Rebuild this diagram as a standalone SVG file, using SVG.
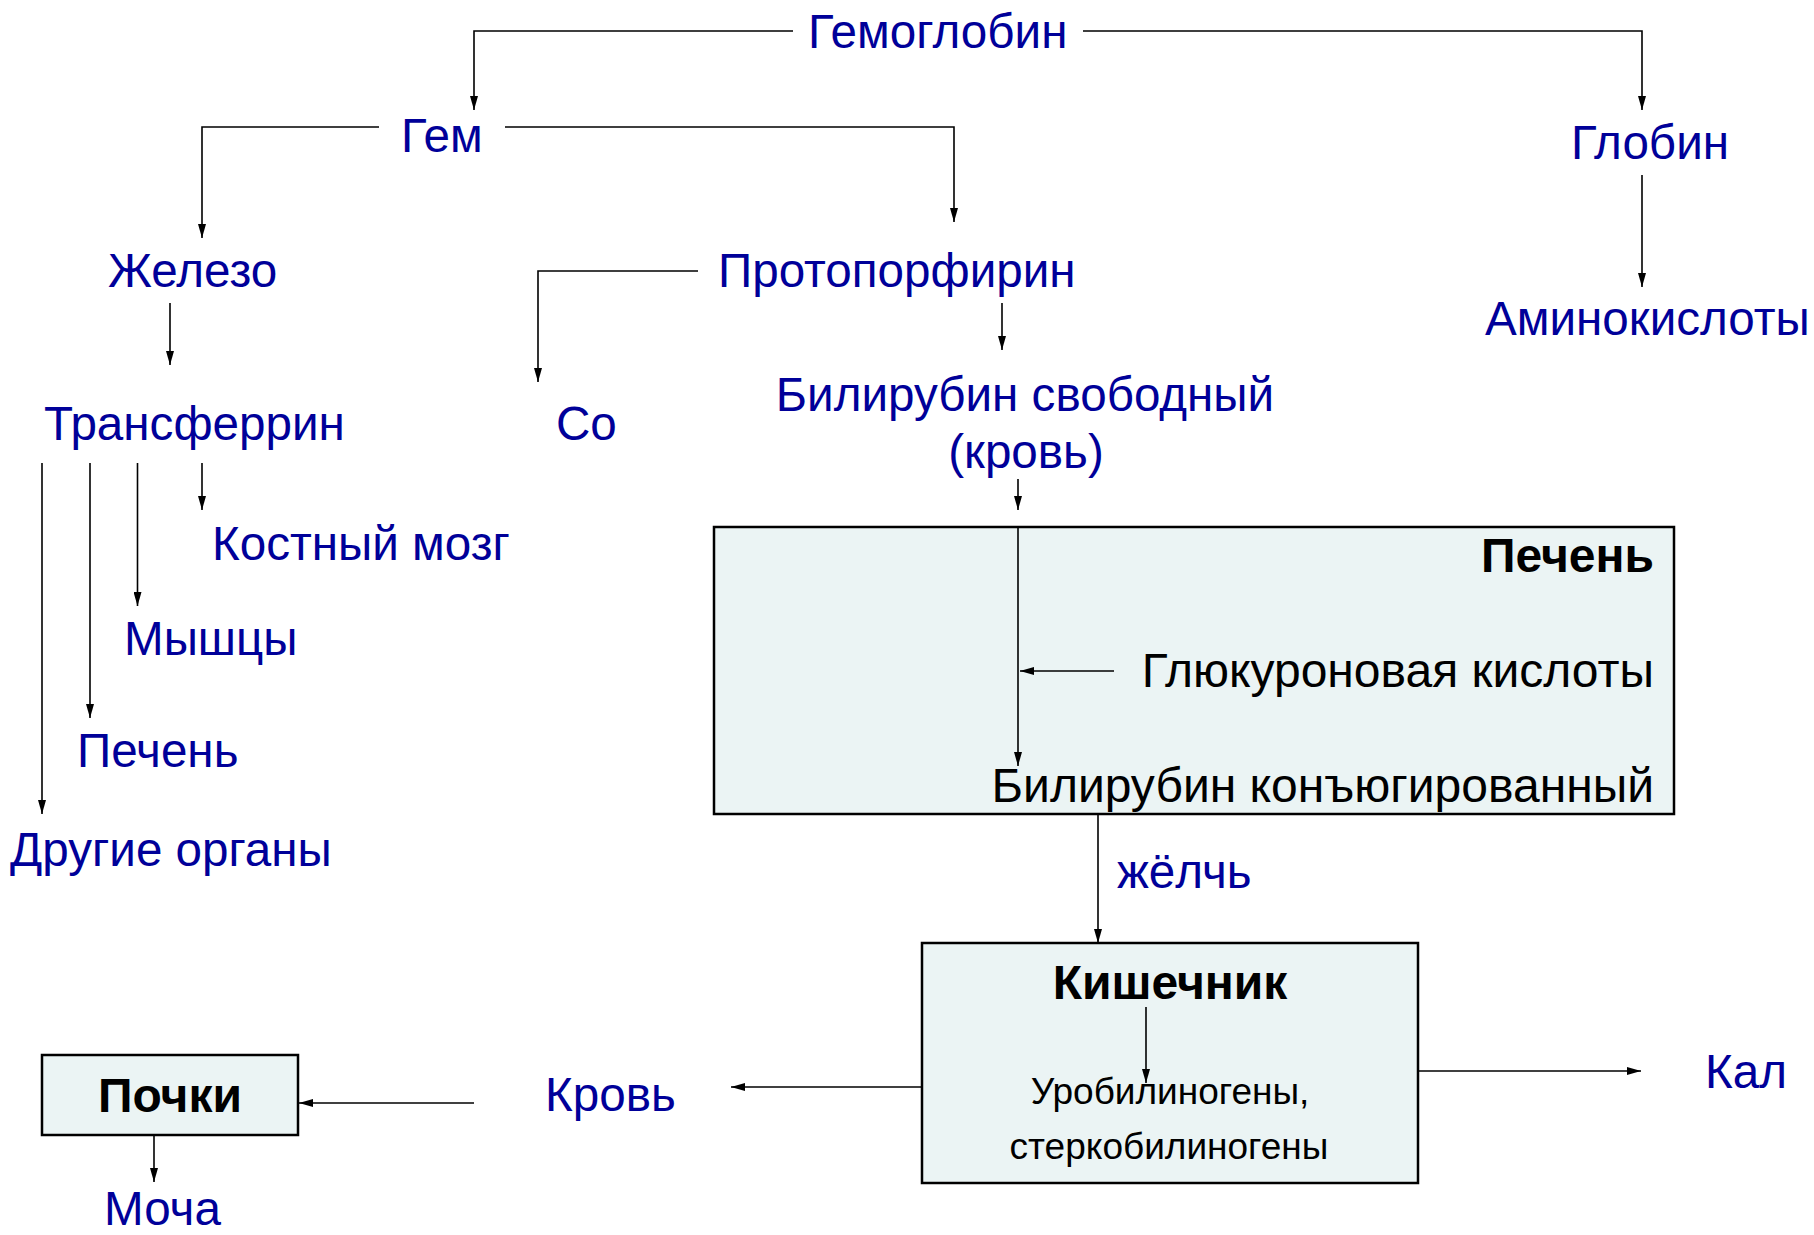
<svg xmlns="http://www.w3.org/2000/svg" width="1814" height="1235" viewBox="0 0 1814 1235">
<style>
.t{font-family:"Liberation Sans",Arial,sans-serif;font-size:47.6px;fill:#000099}
.k{font-family:"Liberation Sans",Arial,sans-serif;font-size:48px;fill:#000}
.b{font-family:"Liberation Sans",Arial,sans-serif;font-size:48px;font-weight:bold;fill:#000}
.s{font-family:"Liberation Sans",Arial,sans-serif;font-size:37px;fill:#000}
.box{fill:#ebf4f4;stroke:#000;stroke-width:2.5}
.c{fill:none;stroke:#000;stroke-width:1.6}
.a{fill:none;stroke:#000;stroke-width:1.6;marker-end:url(#ar)}
</style>
<defs>
<marker id="ar" viewBox="0 0 14 8" refX="14" refY="4" markerWidth="14" markerHeight="8" markerUnits="userSpaceOnUse" orient="auto">
<path d="M0,0 L14,4 L0,8 z" fill="#000"/>
</marker>
</defs>
<rect width="1814" height="1235" fill="#fff"/>
<g id="connectors">
<path class="a" d="M793,31 H474 V110"/>
<path class="a" d="M1083,31 H1642 V110"/>
<path class="a" d="M379,127 H202 V238"/>
<path class="a" d="M505,127 H954 V222"/>
<path class="a" d="M170,303 V365"/>
<path class="a" d="M698,271 H538 V382"/>
<path class="a" d="M1002,303 V350"/>
<path class="a" d="M1642,175 V287"/>
<path class="a" d="M202,463 V510"/>
<path class="a" d="M137.5,463 V606"/>
<path class="a" d="M90,463 V718"/>
<path class="a" d="M42,463 V814"/>
<path class="a" d="M1018,479 V510"/>
<path class="a" d="M1098,814 V943"/>
<path class="a" d="M922,1087 H731"/>
<path class="a" d="M474,1103 H299"/>
<path class="a" d="M154,1135 V1182"/>
<path class="a" d="M1418,1071 H1641"/>
</g>
<g id="n-gemoglobin"><text class="t" x="808" y="48">Гемоглобин</text></g>
<g id="n-gem"><text class="t" x="401" y="152">Гем</text></g>
<g id="n-globin"><text class="t" x="1571" y="159">Глобин</text></g>
<g id="n-zhelezo"><text class="t" x="108" y="287">Железо</text></g>
<g id="n-protoporfirin"><text class="t" x="718" y="287">Протопорфирин</text></g>
<g id="n-aminokisloty"><text class="t" x="1485" y="335">Аминокислоты</text></g>
<g id="n-transferrin"><text class="t" x="44" y="440">Трансферрин</text></g>
<g id="n-co"><text class="t" x="556" y="440">Со</text></g>
<g id="n-bilirubin-free"><text class="t" x="1025" y="411" text-anchor="middle">Билирубин свободный</text><text class="t" x="1026" y="468" text-anchor="middle">(кровь)</text></g>
<g id="n-kostny"><text class="t" x="212" y="560">Костный мозг</text></g>
<g id="n-myshcy"><text class="t" x="124" y="655">Мышцы</text></g>
<g id="n-pechen-small"><text class="t" x="77" y="767">Печень</text></g>
<g id="n-drugie"><text class="t" x="10" y="866">Другие органы</text></g>
<g id="n-pechen">
<rect class="box" x="714" y="527" width="960" height="287"/>
<path class="c" d="M1018,527 V766" marker-end="url(#ar)"/>
<path class="a" d="M1114,671 H1020"/>
<text class="b" x="1654" y="572" text-anchor="end">Печень</text>
<text class="k" x="1654" y="687" text-anchor="end">Глюкуроновая кислоты</text>
<text class="k" x="1654" y="802" text-anchor="end">Билирубин конъюгированный</text>
</g>
<g id="n-zhelch"><text class="t" x="1117" y="888">жёлчь</text></g>
<g id="n-kishechnik">
<rect class="box" x="922" y="943" width="496" height="240"/>
<text class="b" x="1170" y="999" text-anchor="middle">Кишечник</text>
<path class="a" d="M1146,1007 V1083"/>
<text class="s" x="1170" y="1104" text-anchor="middle">Уробилиногены,</text>
<text class="s" x="1169" y="1159" text-anchor="middle">стеркобилиногены</text>
</g>
<g id="n-kal"><text class="t" x="1705" y="1088">Кал</text></g>
<g id="n-krov"><text class="t" x="545" y="1111">Кровь</text></g>
<g id="n-pochki">
<rect class="box" x="42" y="1055" width="256" height="80"/>
<text class="b" x="170" y="1112" text-anchor="middle">Почки</text>
</g>
<g id="n-mocha"><text class="t" x="104" y="1225">Моча</text></g>
</svg>
